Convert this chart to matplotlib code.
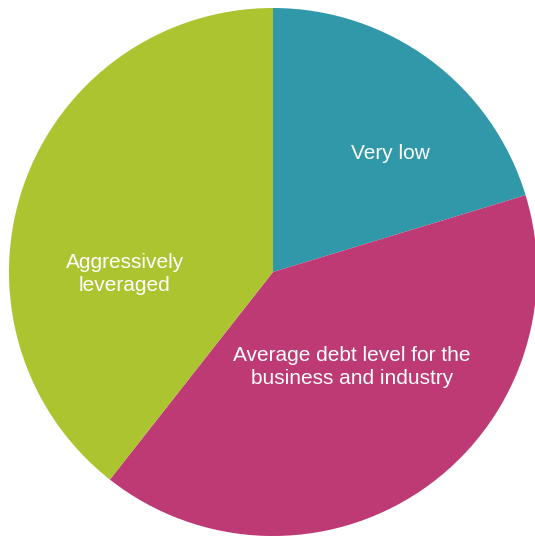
import matplotlib.pyplot as plt

# debt level shares (percent), clockwise from 12 o'clock
labels = ["Very low", "Average debt level for the\nbusiness and industry", "Aggressively\nleveraged"]
shares = [20.3, 40.3, 39.4]
colors = ["#3198A9", "#BE3A74", "#ACC42F"]

# label anchors in data units (pie radius = 1)
label_x = [0.443, 0.299, -0.561]
label_y = [0.447, -0.360, -0.008]

plt.rcParams["font.family"] = ["Liberation Sans", "DejaVu Sans"]

fig = plt.figure(figsize=(5.35, 5.37), dpi=100)
ax = fig.add_axes([0, 0, 1, 1])

ax.pie(shares, colors=colors, startangle=90, counterclock=False,
       radius=1, center=(0, 0), wedgeprops=dict(linewidth=0))

# place the pie: center at (273, 272) px, radius 264 px
px = 264.0
ax.set_xlim(-273 / px, (535 - 273) / px)
ax.set_ylim(-(537 - 272) / px, 272 / px)
ax.axis("off")

for lab, x, y in zip(labels, label_x, label_y):
    ax.text(x, y, lab, color="white", fontsize=15, ha="center", va="center",
            linespacing=1.3)

fig.savefig("out.png", dpi=100)
